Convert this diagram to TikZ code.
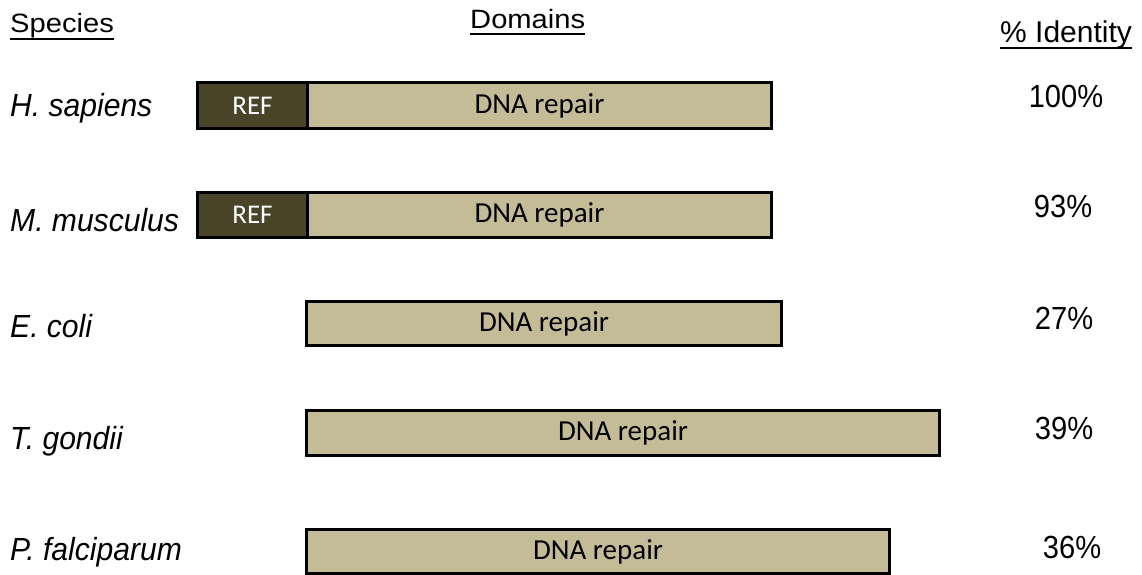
\documentclass[tikz,border=0pt]{standalone}
\usepackage{fontspec}
\setmainfont{Liberation Sans}
\newfontfamily\calfont{Carlito}
\newfontfamily\narrowfont[FakeStretch=0.91]{Liberation Sans}
\newfontfamily\spfont[FakeStretch=0.94]{Liberation Sans}
\newfontfamily\widefont[FakeStretch=1.1]{Liberation Sans}
\usetikzlibrary{calc}
\definecolor{tan}{RGB}{196,188,150}
\definecolor{darkref}{RGB}{74,68,41}
\begin{document}
\begin{tikzpicture}[x=1pt,y=-1pt,
  hdr/.style={font=\widefont\fontsize{26.5}{32}\selectfont, inner sep=0pt, anchor=base west},
  pct/.style={font=\narrowfont\fontsize{32}{36}\selectfont, inner sep=0pt, anchor=base},
  sp/.style={font=\spfont\fontsize{32}{36}\selectfont\itshape, inner sep=0pt, anchor=base west},
  uline/.style={line width=1.8pt},
  bar/.style={draw=black, line width=3pt, fill=tan, anchor=north west, inner sep=0pt,
    font=\calfont\fontsize{29}{32}\selectfont},
  refbox/.style={bar, fill=darkref, text=white, font=\calfont\fontsize{27}{32}\selectfont}]
\useasboundingbox (0,0) rectangle (1142,575);
% headers
\node[hdr] (hsp) at (10,33) {Species};
\node[hdr] (hdom) at (470,29) {Domains};
\node[font=\fontsize{30}{34}\selectfont, inner sep=0pt, anchor=base west] (hid) at (1000,43) {\% Identity};
\draw[uline] ($(hsp.base west)+(0,6)$) -- ($(hsp.base east)+(0,6)$);
\draw[uline] ($(hdom.base west)+(0,5)$) -- ($(hdom.base east)+(0,5)$);
\draw[uline] ($(hid.base west)+(0,5)$) -- ($(hid.base east)+(0,5)$);
% species
\node[sp] (s1) at (10,117) {H. sapiens};
\node[sp] (s2) at (10,231) {M. musculus};
\node[sp] (s3) at (10,337) {E. coli};
\node[sp] (s4) at (10,449) {T. gondii};
\node[sp] (s5) at (10,560) {P. falciparum};
% bars
\node[bar, minimum width=464pt, minimum height=46pt] (b1) at (306,81) {DNA repair};
\node[refbox, minimum width=110pt, minimum height=46pt] (r1) at (196,81) {REF};
\node[bar, minimum width=464pt, minimum height=45pt] (b2) at (306,191) {DNA repair};
\node[refbox, minimum width=110pt, minimum height=45pt] (r2) at (196,191) {REF};
\node[bar, minimum width=475pt, minimum height=44pt] (b3) at (305,300) {DNA repair};
\node[bar, minimum width=633pt, minimum height=45pt] (b4) at (305,409) {DNA repair};
\node[bar, minimum width=583pt, minimum height=44pt] (b5) at (305,528) {DNA repair};
% percentages
\node[pct] (p1) at (1066,108) {100\%};
\node[pct] (p2) at (1063,217) {93\%};
\node[pct] (p3) at (1064,329) {27\%};
\node[pct] (p4) at (1064,439) {39\%};
\node[pct] (p5) at (1072,558) {36\%};
\end{tikzpicture}
\end{document}
